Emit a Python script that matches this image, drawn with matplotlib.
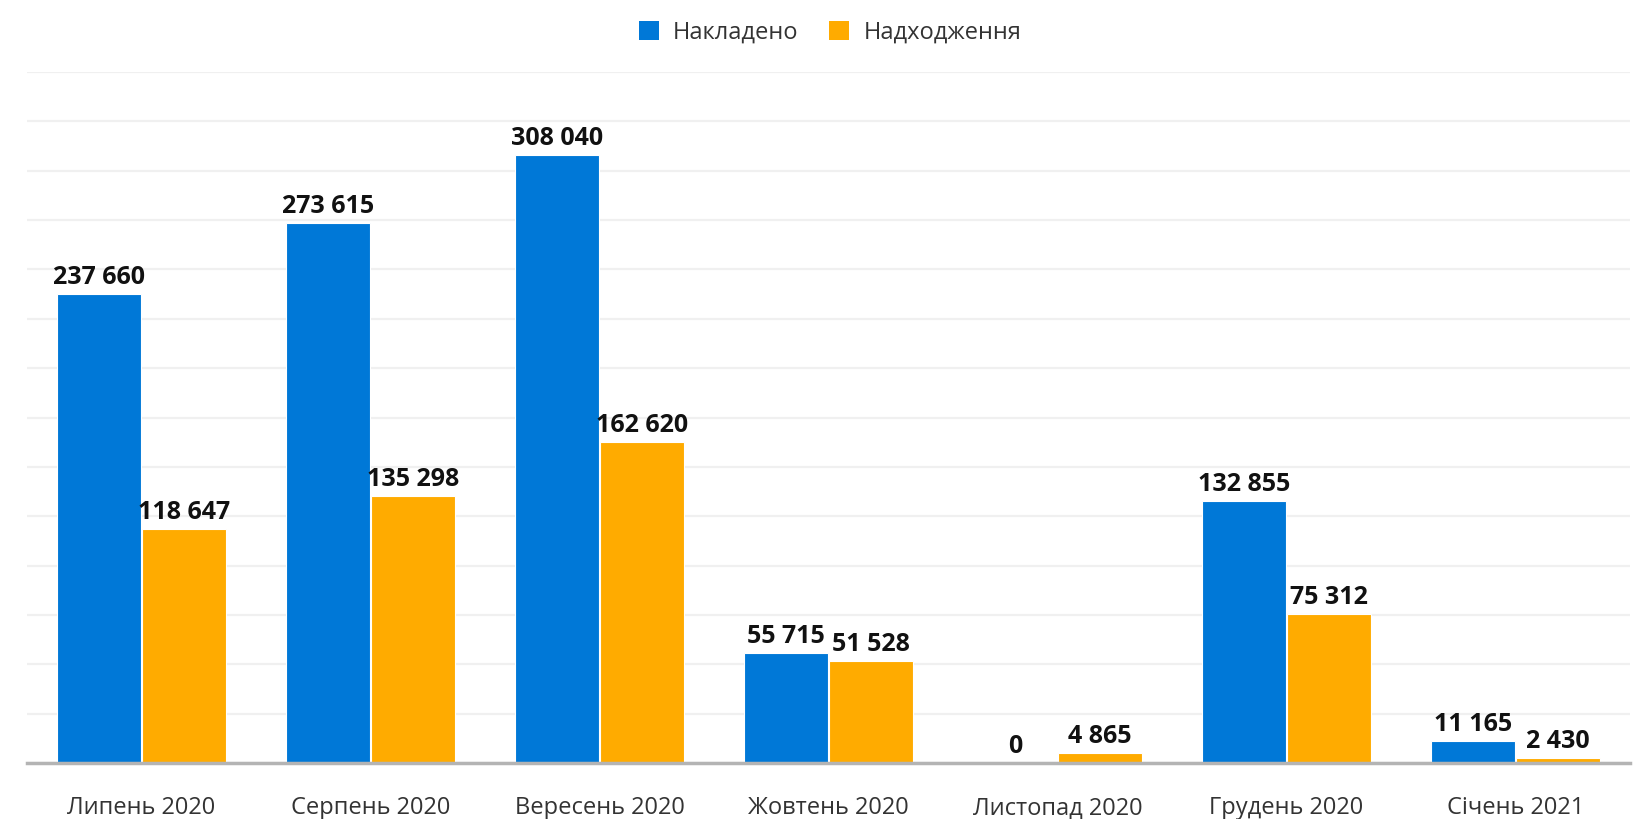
import matplotlib
matplotlib.use("Agg")
import matplotlib.pyplot as plt
from matplotlib.patches import Patch
import numpy as np

categories = ["Липень 2020", "Серпень 2020", "Вересень 2020", "Жовтень 2020",
              "Листопад 2020", "Грудень 2020", "Січень 2021"]
nakladeno = [237660, 273615, 308040, 55715, 0, 132855, 11165]
nadkhodzhennia = [118647, 135298, 162620, 51528, 4865, 75312, 2430]
series_names = ["Накладено", "Надходження"]
colors = ["#0078d7", "#ffab00"]

plt.rcParams['font.family'] = ['Open Sans', 'DejaVu Sans']

fig = plt.figure(figsize=(16.37, 8.19), dpi=100)
ax = fig.add_axes([27/1637, 1-763/819, (1630-27)/1637, (763-72)/819])

x = np.arange(len(categories))
w = 0.365
off = 0.185

def fmt(v):
    return f"{v:,}".replace(",", " ")

for vals, dx, c in [(nakladeno, -off, colors[0]), (nadkhodzhennia, off, colors[1])]:
    bars = ax.bar(x + dx, vals, width=w, color=c, edgecolor='white', linewidth=0.8, zorder=3)
    for b, v in zip(bars, vals):
        ax.annotate(fmt(v), (b.get_x() + b.get_width()/2, v), xytext=(0, 3),
                    textcoords='offset points', ha='center', va='bottom',
                    fontsize=18, fontweight='bold', color='#111111', zorder=4)

ax.set_xlim(-0.5, len(categories) - 0.5)
ax.set_ylim(0, 350000)
ax.set_yticks(np.arange(0, 350001, 25000))
ax.yaxis.grid(True, color='#f0f0f0', linewidth=1.6, zorder=0)
ax.set_axisbelow(True)
for s in ['top', 'right', 'left']:
    ax.spines[s].set_visible(False)
ax.spines['bottom'].set_color('#b4b4b4')
ax.spines['bottom'].set_linewidth(2.5)
ax.spines['bottom'].set_zorder(5)
ax.tick_params(axis='y', left=False, labelleft=False)
ax.tick_params(axis='x', length=0, pad=24, labelsize=17, labelcolor='#333333')
ax.set_xticks(x)
ax.set_xticklabels(categories)

handles = [Patch(facecolor=c, edgecolor='none') for c in colors]
fig.legend(handles, series_names, loc='center', bbox_to_anchor=(0.507, 1-33/819),
           ncol=2, frameon=False, fontsize=17, handlelength=0.85, handleheight=0.85,
           handletextpad=0.6, columnspacing=1.3, labelcolor='#333333')

fig.savefig("out.png", dpi=100)
